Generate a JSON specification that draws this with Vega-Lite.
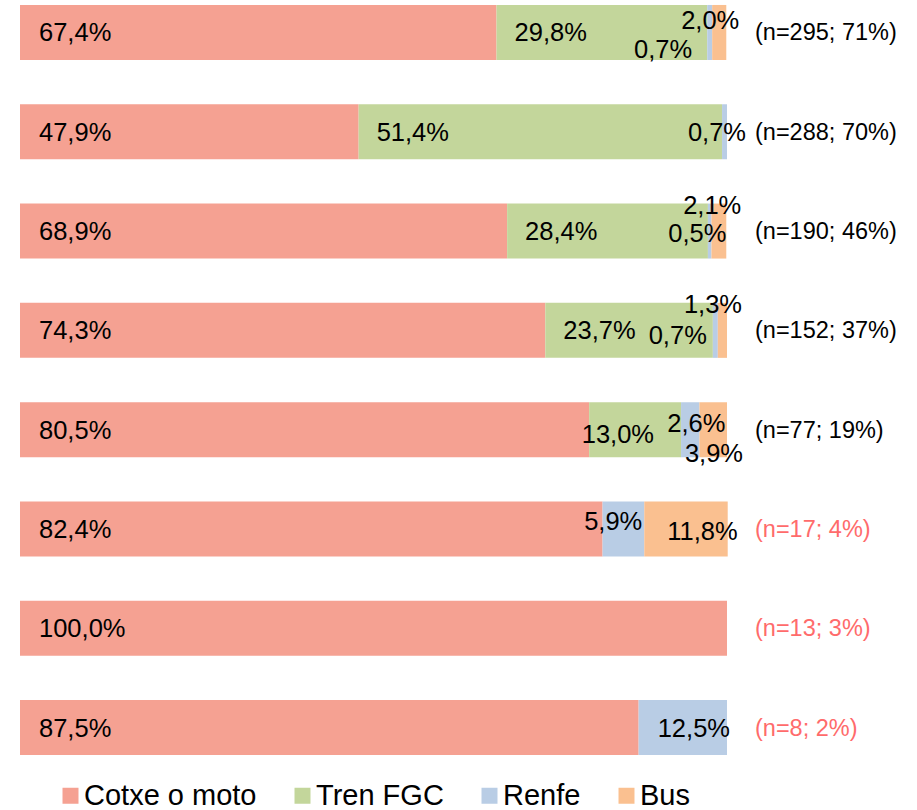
{
  "$schema": "https://vega.github.io/schema/vega-lite/v6.json",
  "width": 707,
  "height": 760,
  "autosize": {"type": "none"},
  "padding": {"left": 20, "top": 0, "right": 190, "bottom": 50},
  "config": {
    "view": {"stroke": null},
    "locale": {"number": {"decimal": ",", "thousands": ".", "grouping": [3], "currency": ["", " €"]}},
    "text": {"font": "Liberation Sans", "fontSize": 25.5, "color": "#000000", "baseline": "middle"}
  },
  "data": {
    "values": [
      {"grp": "(n=295; 71%)", "n": 295, "mode": "Cotxe o moto", "ord": 1, "value": 0.674},
      {"grp": "(n=295; 71%)", "n": 295, "mode": "Tren FGC", "ord": 2, "value": 0.298},
      {"grp": "(n=295; 71%)", "n": 295, "mode": "Renfe", "ord": 3, "value": 0.007},
      {"grp": "(n=295; 71%)", "n": 295, "mode": "Bus", "ord": 4, "value": 0.020},
      {"grp": "(n=288; 70%)", "n": 288, "mode": "Cotxe o moto", "ord": 1, "value": 0.479},
      {"grp": "(n=288; 70%)", "n": 288, "mode": "Tren FGC", "ord": 2, "value": 0.514},
      {"grp": "(n=288; 70%)", "n": 288, "mode": "Renfe", "ord": 3, "value": 0.007},
      {"grp": "(n=190; 46%)", "n": 190, "mode": "Cotxe o moto", "ord": 1, "value": 0.689},
      {"grp": "(n=190; 46%)", "n": 190, "mode": "Tren FGC", "ord": 2, "value": 0.284},
      {"grp": "(n=190; 46%)", "n": 190, "mode": "Renfe", "ord": 3, "value": 0.005},
      {"grp": "(n=190; 46%)", "n": 190, "mode": "Bus", "ord": 4, "value": 0.021},
      {"grp": "(n=152; 37%)", "n": 152, "mode": "Cotxe o moto", "ord": 1, "value": 0.743},
      {"grp": "(n=152; 37%)", "n": 152, "mode": "Tren FGC", "ord": 2, "value": 0.237},
      {"grp": "(n=152; 37%)", "n": 152, "mode": "Renfe", "ord": 3, "value": 0.007},
      {"grp": "(n=152; 37%)", "n": 152, "mode": "Bus", "ord": 4, "value": 0.013},
      {"grp": "(n=77; 19%)", "n": 77, "mode": "Cotxe o moto", "ord": 1, "value": 0.805},
      {"grp": "(n=77; 19%)", "n": 77, "mode": "Tren FGC", "ord": 2, "value": 0.130},
      {"grp": "(n=77; 19%)", "n": 77, "mode": "Renfe", "ord": 3, "value": 0.026},
      {"grp": "(n=77; 19%)", "n": 77, "mode": "Bus", "ord": 4, "value": 0.039},
      {"grp": "(n=17; 4%)", "n": 17, "mode": "Cotxe o moto", "ord": 1, "value": 0.824},
      {"grp": "(n=17; 4%)", "n": 17, "mode": "Renfe", "ord": 3, "value": 0.059},
      {"grp": "(n=17; 4%)", "n": 17, "mode": "Bus", "ord": 4, "value": 0.118},
      {"grp": "(n=13; 3%)", "n": 13, "mode": "Cotxe o moto", "ord": 1, "value": 1.000},
      {"grp": "(n=8; 2%)", "n": 8, "mode": "Cotxe o moto", "ord": 1, "value": 0.875},
      {"grp": "(n=8; 2%)", "n": 8, "mode": "Renfe", "ord": 3, "value": 0.125}
    ]
  },
  "transform": [
    {"stack": "value", "groupby": ["grp"], "sort": [{"field": "ord", "order": "ascending"}], "as": ["x0", "x1"]}
  ],
  "encoding": {
    "y": {
      "field": "grp",
      "type": "nominal",
      "sort": ["(n=295; 71%)", "(n=288; 70%)", "(n=190; 46%)", "(n=152; 37%)", "(n=77; 19%)", "(n=17; 4%)", "(n=13; 3%)", "(n=8; 2%)"],
      "scale": {"paddingInner": 0.446, "paddingOuter": 0.05},
      "axis": null
    }
  },
  "layer": [
    {
      "mark": {"type": "bar"},
      "encoding": {
        "x": {"field": "x0", "type": "quantitative", "scale": {"domain": [0, 1], "nice": false, "zero": true}, "axis": null},
        "x2": {"field": "x1"},
        "color": {
          "field": "mode",
          "type": "nominal",
          "scale": {"domain": ["Cotxe o moto", "Tren FGC", "Renfe", "Bus"], "range": ["#F5A192", "#C3D69B", "#B9CDE5", "#FAC090"]},
          "legend": {
            "orient": "none", "legendX": 36, "legendY": 781, "direction": "horizontal", "title": null,
            "symbolType": "square", "symbolSize": 256, "symbolStrokeWidth": 0, "symbolOpacity": 1,
            "labelFontSize": 29, "labelFont": "Liberation Sans", "labelColor": "#000000", "labelOffset": -1,
            "columnPadding": 31, "labelLimit": 400
          }
        }
      }
    },
    {
      "transform": [{"filter": "datum.ord == 1"}],
      "mark": {"type": "text", "align": "left", "dx": 19, "dy": 1},
      "encoding": {
        "x": {"field": "x0", "type": "quantitative", "scale": {"domain": [0, 1], "nice": false}},
        "text": {"field": "value", "type": "quantitative", "format": ".1%"}
      }
    },
    {
      "transform": [{"filter": "datum.ord == 2 && datum.value >= 0.2"}],
      "mark": {"type": "text", "align": "left", "dx": 18, "dy": 1},
      "encoding": {
        "x": {"field": "x0", "type": "quantitative", "scale": {"domain": [0, 1], "nice": false}},
        "text": {"field": "value", "type": "quantitative", "format": ".1%"}
      }
    },
    {
      "transform": [{"filter": "datum.ord == 2 && datum.value < 0.2"}],
      "mark": {"type": "text", "align": "right", "dx": -27, "dy": 5},
      "encoding": {
        "x": {"field": "x1", "type": "quantitative", "scale": {"domain": [0, 1], "nice": false}},
        "text": {"field": "value", "type": "quantitative", "format": ".1%"}
      }
    },
    {
      "transform": [{"filter": "datum.ord == 3 && datum.grp == '(n=295; 71%)'"}],
      "mark": {"type": "text", "align": "right", "dx": -20, "dy": 18},
      "encoding": {
        "x": {"field": "x1", "type": "quantitative", "scale": {"domain": [0, 1], "nice": false}},
        "text": {"field": "value", "type": "quantitative", "format": ".1%"}
      }
    },
    {
      "transform": [{"filter": "datum.ord == 3 && datum.grp == '(n=288; 70%)'"}],
      "mark": {"type": "text", "align": "right", "dx": 19, "dy": 1},
      "encoding": {
        "x": {"field": "x1", "type": "quantitative", "scale": {"domain": [0, 1], "nice": false}},
        "text": {"field": "value", "type": "quantitative", "format": ".1%"}
      }
    },
    {
      "transform": [{"filter": "datum.ord == 3 && datum.grp == '(n=190; 46%)'"}],
      "mark": {"type": "text", "align": "right", "dx": 15, "dy": 3},
      "encoding": {
        "x": {"field": "x1", "type": "quantitative", "scale": {"domain": [0, 1], "nice": false}},
        "text": {"field": "value", "type": "quantitative", "format": ".1%"}
      }
    },
    {
      "transform": [{"filter": "datum.ord == 3 && datum.grp == '(n=152; 37%)'"}],
      "mark": {"type": "text", "align": "right", "dx": -11, "dy": 6},
      "encoding": {
        "x": {"field": "x1", "type": "quantitative", "scale": {"domain": [0, 1], "nice": false}},
        "text": {"field": "value", "type": "quantitative", "format": ".1%"}
      }
    },
    {
      "transform": [{"filter": "datum.ord == 3 && datum.grp == '(n=77; 19%)'"}],
      "mark": {"type": "text", "align": "right", "dx": 26, "dy": -6},
      "encoding": {
        "x": {"field": "x1", "type": "quantitative", "scale": {"domain": [0, 1], "nice": false}},
        "text": {"field": "value", "type": "quantitative", "format": ".1%"}
      }
    },
    {
      "transform": [{"filter": "datum.ord == 3 && datum.grp == '(n=17; 4%)'"}],
      "mark": {"type": "text", "align": "right", "dx": -2, "dy": -7},
      "encoding": {
        "x": {"field": "x1", "type": "quantitative", "scale": {"domain": [0, 1], "nice": false}},
        "text": {"field": "value", "type": "quantitative", "format": ".1%"}
      }
    },
    {
      "transform": [{"filter": "datum.ord == 3 && datum.grp == '(n=8; 2%)'"}],
      "mark": {"type": "text", "align": "right", "dx": 3, "dy": 1},
      "encoding": {
        "x": {"field": "x1", "type": "quantitative", "scale": {"domain": [0, 1], "nice": false}},
        "text": {"field": "value", "type": "quantitative", "format": ".1%"}
      }
    },
    {
      "transform": [{"filter": "datum.ord == 4 && datum.grp == '(n=295; 71%)'"}],
      "mark": {"type": "text", "align": "right", "dx": 13, "dy": -11},
      "encoding": {
        "x": {"field": "x1", "type": "quantitative", "scale": {"domain": [0, 1], "nice": false}},
        "text": {"field": "value", "type": "quantitative", "format": ".1%"}
      }
    },
    {
      "transform": [{"filter": "datum.ord == 4 && (datum.grp == '(n=190; 46%)' || datum.grp == '(n=152; 37%)')"}],
      "mark": {"type": "text", "align": "right", "dx": 15, "dy": -25},
      "encoding": {
        "x": {"field": "x1", "type": "quantitative", "scale": {"domain": [0, 1], "nice": false}},
        "text": {"field": "value", "type": "quantitative", "format": ".1%"}
      }
    },
    {
      "transform": [{"filter": "datum.ord == 4 && datum.grp == '(n=77; 19%)'"}],
      "mark": {"type": "text", "align": "right", "dx": 16, "dy": 24},
      "encoding": {
        "x": {"field": "x1", "type": "quantitative", "scale": {"domain": [0, 1], "nice": false}},
        "text": {"field": "value", "type": "quantitative", "format": ".1%"}
      }
    },
    {
      "transform": [{"filter": "datum.ord == 4 && datum.grp == '(n=17; 4%)'"}],
      "mark": {"type": "text", "align": "right", "dx": 10, "dy": 3},
      "encoding": {
        "x": {"field": "x1", "type": "quantitative", "scale": {"domain": [0, 1], "nice": false}},
        "text": {"field": "value", "type": "quantitative", "format": ".1%"}
      }
    },
    {
      "transform": [{"filter": "datum.ord == 1"}],
      "mark": {"type": "text", "align": "left", "dx": 28, "dy": 1, "fontSize": 23.5},
      "encoding": {
        "x": {"datum": 1, "type": "quantitative", "scale": {"domain": [0, 1], "nice": false}},
        "text": {"field": "grp", "type": "nominal"},
        "color": {"condition": {"test": "datum.n < 30", "value": "#FF6B6B"}, "value": "#000000"}
      }
    }
  ]
}
